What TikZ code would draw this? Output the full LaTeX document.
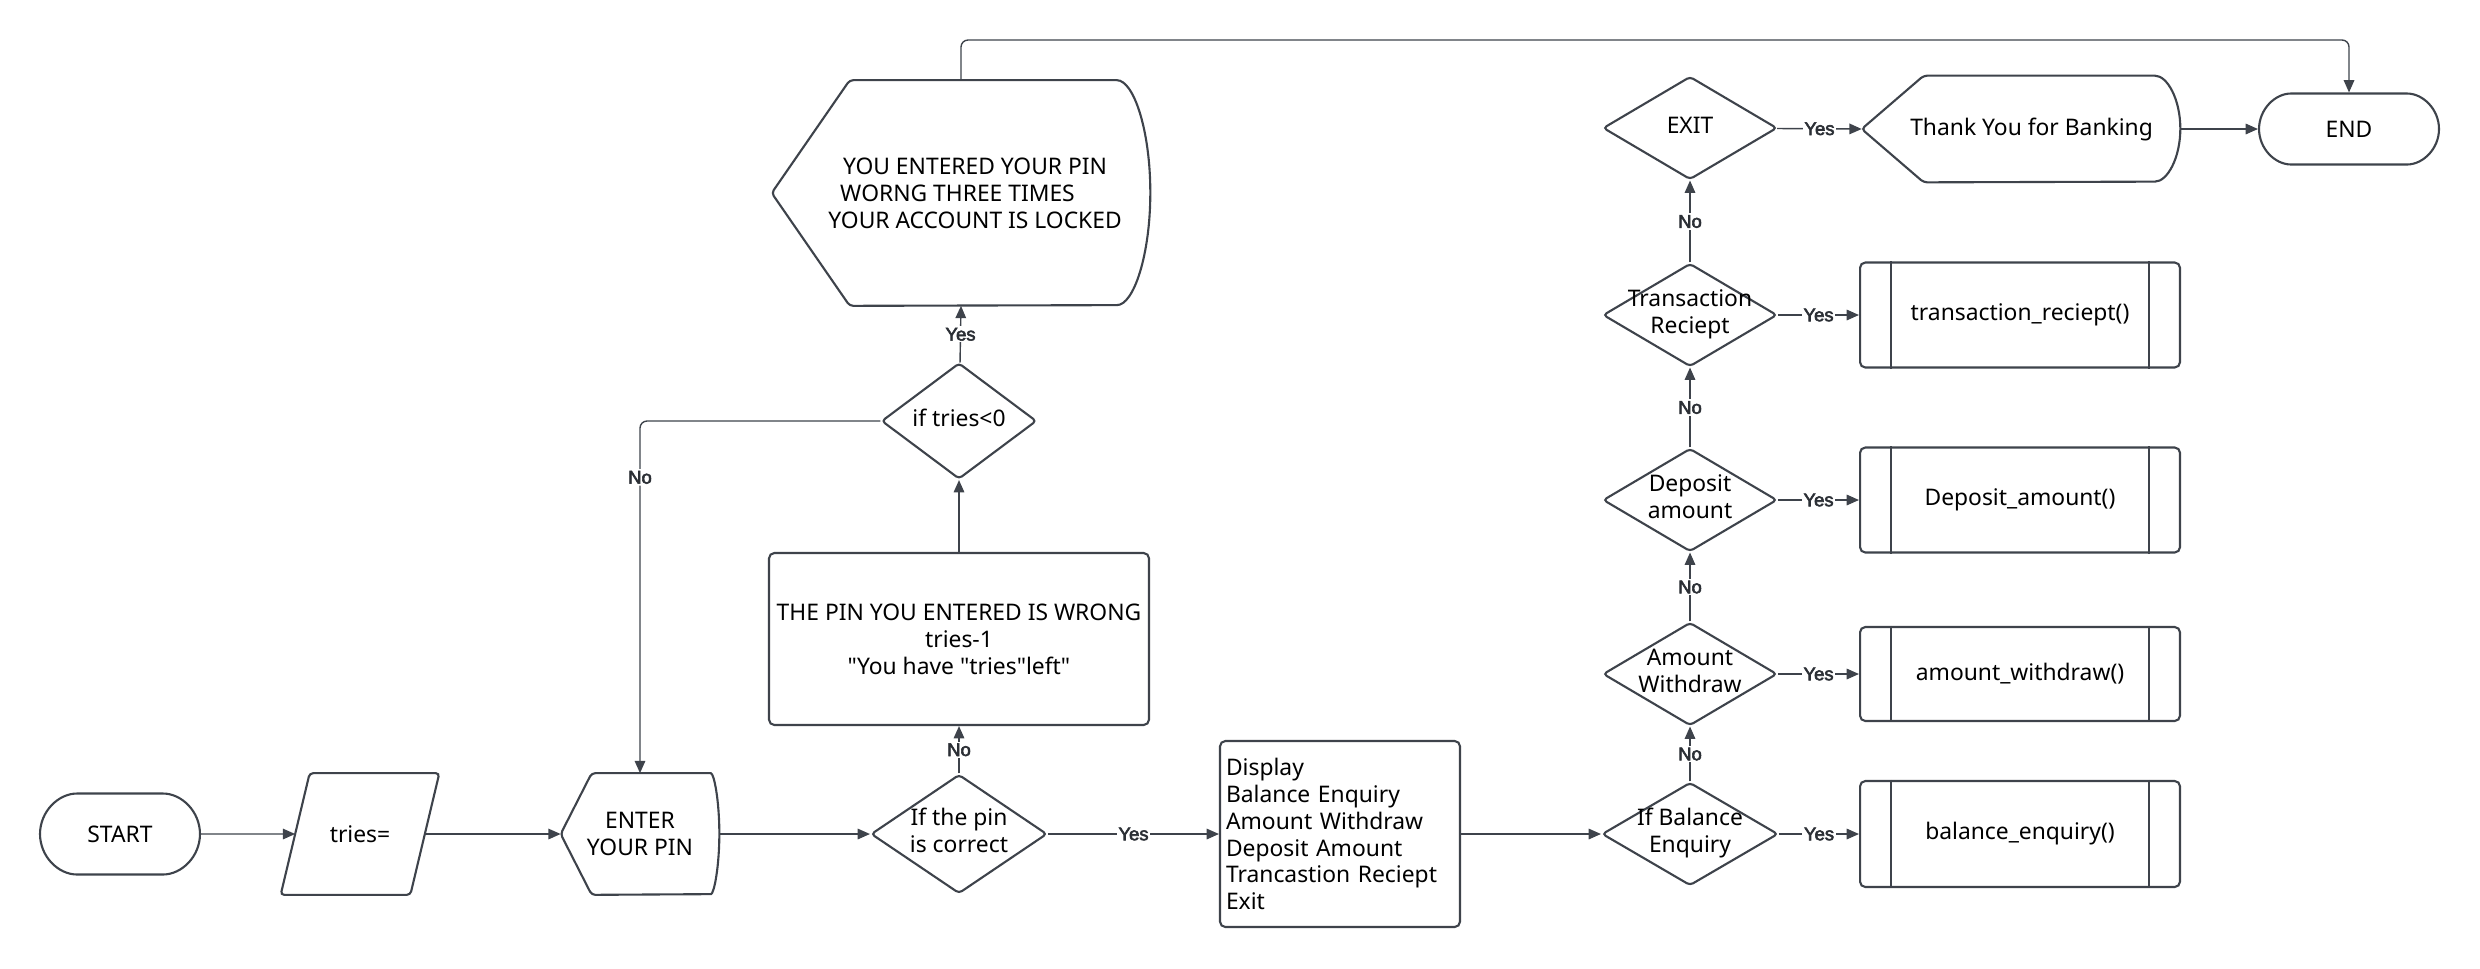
\documentclass[tikz,border=0pt]{standalone}
\usepackage{fontspec}
\setmainfont{Noto Sans}
\newfontfamily\labelfont{Liberation Sans}[FakeBold=3]
\usepackage{tikz}
\usetikzlibrary{positioning, shapes.geometric, shapes.misc, arrows.meta}
\definecolor{linegray}{HTML}{3E434B}

\tikzset{
  shapeline/.style={draw=linegray, line width=1.2pt, rounded corners=2pt},
  basetext/.style={font=\fontsize{13}{15.3}\selectfont, align=center, inner sep=0pt},
  terminal/.style={basetext, shapeline, rounded rectangle},
  decision/.style={basetext, shapeline, diamond},
  process/.style={basetext, shapeline, rectangle, rounded corners=3pt},
  textonly/.style={basetext},
  conn/.style={draw=linegray, line width=0.8pt, -{Stealth[length=7pt, width=6pt, inset=0pt]}},
  lbl/.style={fill=white, inner sep=1pt, font=\labelfont\fontsize{10.5}{12}\selectfont, text=linegray!70!black}
}

% text of a diamond, kept out of the size of the shape
\newcommand{\dtext}[1]{\makebox[0pt]{\begin{tabular}{@{}c@{}}#1\end{tabular}}}
% display shape: pointed left side, curved right side
\newcommand{\displayoutline}[4]{%
  \draw[shapeline] ([xshift=#2]#1.north west) -- ([xshift=-#3]#1.north east)
    arc[start angle=90, end angle=-90, x radius=#3, y radius=#4]
    -- ([xshift=#2]#1.south west) -- (#1.west) -- cycle;}

\begin{document}
\begin{tikzpicture}[x=0.02cm, y=-0.02cm]
      \useasboundingbox (0,0) rectangle (2480,968);
      % login part
      \node[terminal, minimum width=3.2cm, minimum height=1.62cm] (start) at (120,834) {START};
      \node[textonly, minimum width=3.16cm, minimum height=2.42cm] (tries) at (360,834) {tries=};
      \node[textonly, minimum width=3.16cm, minimum height=2.42cm] (enter) at (640,834) {ENTER\\YOUR PIN};
      \node[decision, minimum width=3.52cm, minimum height=2.38cm] (ifpin) at (959,834) {\dtext{If the pin\\is correct}};
      \node[process, minimum width=7.6cm, minimum height=3.44cm] (wrong) at (959,639)
      {THE PIN YOU ENTERED IS WRONG\\tries-1\\\textquotedbl You have \textquotedbl tries\textquotedbl left\textquotedbl};
      \node[decision, minimum width=3.1cm, minimum height=2.32cm] (iftries) at (959,421) {\dtext{if tries<0}};
      \node[textonly, minimum width=7.56cm, minimum height=4.5cm] (locked) at (961,193)
      {\hspace*{16pt}YOU ENTERED YOUR PIN\\WORNG THREE TIMES\rule{4pt}{0pt}\\\hspace*{16pt}YOUR ACCOUNT IS LOCKED};
      % menu
      \node[process, text width=4.56cm, align=left, inner xsep=0.12cm, minimum width=4.8cm,
        minimum height=3.72cm] (menu) at (1340,834)
      {Display\\Balance Enquiry\\Amount Withdraw\\Deposit Amount\\Trancastion Reciept\\Exit};
      \node[decision, minimum width=3.52cm, minimum height=2.06cm] (ifbal) at (1690,834) {\dtext{If Balance\\Enquiry}};
      \node[decision, minimum width=3.48cm, minimum height=2.06cm] (ifwdr) at (1690,674) {\dtext{Amount\\Withdraw}};
      \node[decision, minimum width=3.48cm, minimum height=2.06cm] (ifdep) at (1690,500) {\dtext{Deposit\\amount}};
      \node[decision, minimum width=3.48cm, minimum height=2.06cm] (ifrec) at (1690,315) {\dtext{Transaction\\Reciept}};
      \node[decision, minimum width=3.48cm, minimum height=2.06cm] (ifexit) at (1690,128) {\dtext{EXIT}};
      \node[process, minimum width=6.4cm, minimum height=2.12cm] (pbal) at (2020,834) {balance\_enquiry()};
      \node[process, minimum width=6.4cm, minimum height=1.88cm] (pwdr) at (2020,674) {amount\_withdraw()};
      \node[process, minimum width=6.4cm, minimum height=2.1cm] (pdep) at (2020,500) {Deposit\_amount()};
      \node[process, minimum width=6.4cm, minimum height=2.1cm] (prec) at (2020,315) {transaction\_reciept()};
      \node[textonly, minimum width=6.36cm, minimum height=2.12cm] (thanks) at (2021,129) {\hspace*{12pt}Thank You for Banking};
      \node[terminal, minimum width=3.6cm, minimum height=1.42cm] (end) at (2349,129) {END};
      \coordinate (topturn) at (2349,40);

      % outlines that are not node shapes
      \draw[shapeline] ([xshift=0.58cm]tries.north west) -- (tries.north east)
        -- ([xshift=-0.58cm]tries.south east) -- (tries.south west) -- cycle;
      \displayoutline{enter}{0.62cm}{0.24cm}{1.21cm}
      \displayoutline{locked}{1.56cm}{0.74cm}{2.25cm}
      \displayoutline{thanks}{1.24cm}{0.58cm}{1.06cm}
      \draw[shapeline] ([xshift=0.64cm]pbal.north west) -- ([xshift=0.64cm]pbal.south west);
      \draw[shapeline] ([xshift=-0.64cm]pbal.north east) -- ([xshift=-0.64cm]pbal.south east);
      \draw[shapeline] ([xshift=0.64cm]pwdr.north west) -- ([xshift=0.64cm]pwdr.south west);
      \draw[shapeline] ([xshift=-0.64cm]pwdr.north east) -- ([xshift=-0.64cm]pwdr.south east);
      \draw[shapeline] ([xshift=0.64cm]pdep.north west) -- ([xshift=0.64cm]pdep.south west);
      \draw[shapeline] ([xshift=-0.64cm]pdep.north east) -- ([xshift=-0.64cm]pdep.south east);
      \draw[shapeline] ([xshift=0.64cm]prec.north west) -- ([xshift=0.64cm]prec.south west);
      \draw[shapeline] ([xshift=-0.64cm]prec.north east) -- ([xshift=-0.64cm]prec.south east);

      % connectors
      \draw[conn] (start) -- ([xshift=0.29cm]tries.west);
      \draw[conn] ([xshift=-0.29cm]tries.east) -- (enter.west);
      \draw[conn] (enter.east) -- (ifpin);
      \draw[conn] (ifpin) -- node[lbl]{Yes} (menu);
      \draw[conn] (ifpin) -- node[lbl]{No} (wrong);
      \draw[conn] (wrong) -- (iftries);
      \draw[conn] (iftries) -- node[lbl]{Yes} (locked.south);
      \draw[conn, rounded corners=4pt] (iftries.west) -| node[lbl, pos=0.58]{No} (enter.north);
      \draw[conn, rounded corners=4pt] (locked.north) |- (topturn) -- (end.north);
      \draw[conn] (menu) -- (ifbal);
      \draw[conn] (ifbal) -- node[lbl]{Yes} (pbal);
      \draw[conn] (ifbal) -- node[lbl]{No} (ifwdr);
      \draw[conn] (ifwdr) -- node[lbl]{Yes} (pwdr);
      \draw[conn] (ifwdr) -- node[lbl]{No} (ifdep);
      \draw[conn] (ifdep) -- node[lbl]{Yes} (pdep);
      \draw[conn] (ifdep) -- node[lbl]{No} (ifrec);
      \draw[conn] (ifrec) -- node[lbl]{Yes} (prec);
      \draw[conn] (ifrec) -- node[lbl]{No} (ifexit);
      \draw[conn] (ifexit) -- node[lbl]{Yes} (thanks.west);
      \draw[conn] (thanks.east) -- (end);
    \end{tikzpicture}
\end{document}
